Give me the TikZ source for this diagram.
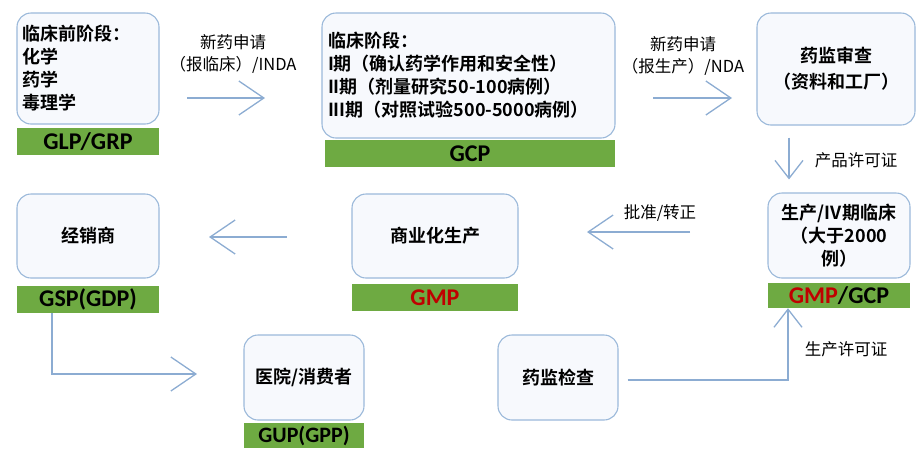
\documentclass[tikz,border=0pt]{standalone}
\usepackage{fontspec}
\setmainfont{Carlito}
\newfontfamily\cjk{Noto Sans CJK SC}[BoldFont={Noto Sans CJK SC Bold}]
\usetikzlibrary{arrows.meta, positioning, calc}
\definecolor{boxline}{RGB}{155,185,218}
\definecolor{boxbg}{RGB}{247,249,253}
\definecolor{bargreen}{RGB}{110,170,66}
\definecolor{arrowblue}{RGB}{140,172,210}
\definecolor{gmpred}{RGB}{192,0,0}

\begin{document}
\begin{tikzpicture}[x=1pt, y=-1pt,
  stage/.style={draw=boxline, fill=boxbg, rounded corners=14pt, line width=1.1pt,
                font=\cjk\bfseries\fontsize{18}{23}\selectfont, align=center, inner sep=6pt},
  bar/.style={fill=bargreen, inner sep=0pt, font=\bfseries\fontsize{24}{24}\selectfont},
  flow/.style={draw=arrowblue, line width=1.3pt,
               -{Straight Barb[length=25pt, width=34pt, line width=1.3pt]}},
  smallflow/.style={flow, -{Straight Barb[length=18pt, width=28pt, line width=1.3pt]}},
  lbl/.style={font=\cjk\fontsize{16.5}{22}\selectfont, align=center}
]
  \useasboundingbox (0,0) rectangle (916,448);

  % top row
  \node[stage, minimum width=142pt, minimum height=111pt, text width=130pt, align=left]
       (pre) at (88,68.5) {临床前阶段：\\化学\\药学\\毒理学};
  \node[bar, minimum width=142pt, minimum height=27pt] (glp) at (88,141.5) {GLP/GRP};
  \node[stage, minimum width=293pt, minimum height=125pt, text width=281pt, align=left]
       (clin) at (468.5,75.5) {临床阶段：\\I期（确认药学作用和安全性）\\II期（剂量研究50-100病例）\\III期（对照试验500-5000病例）};
  \node[bar, minimum width=290pt, minimum height=27pt] (gcp) at (470,153.5) {GCP};
  \node[stage, minimum width=158pt, minimum height=112pt] (review) at (836,69) {药监审查\\[3pt]（资料和工厂）};

  % middle row
  \node[stage, minimum width=142pt, minimum height=85pt] (phase4) at (839,235.5) {生产/IV期临床\\（大于2000\\例）};
  \node[bar, minimum width=142pt, minimum height=25pt] (gmpgcp) at (839,295.5) {\textcolor{gmpred}{GMP}/GCP};
  \node[stage, minimum width=166pt, minimum height=84pt] (mass) at (435,236) {商业化生产};
  \node[bar, minimum width=166pt, minimum height=27pt] (gmp) at (435,297.5) {\textcolor{gmpred}{GMP}};
  \node[stage, minimum width=142pt, minimum height=84pt] (dealer) at (88,236) {经销商};
  \node[bar, minimum width=142pt, minimum height=27pt] (gsp) at (88,299.5) {GSP(GDP)};

  % bottom row
  \node[stage, minimum width=120pt, minimum height=85pt] (user) at (304,377.5) {医院/消费者};
  \node[bar, minimum width=120pt, minimum height=25pt, font=\bfseries\fontsize{22}{22}\selectfont]
       (gup) at (304,435.5) {GUP(GPP)};
  \node[stage, minimum width=120pt, minimum height=85pt] (inspect) at (558,377.5) {药监检查};

  % free arrow ends
  \coordinate (ind1) at (187,98);  \coordinate (ind2) at (265,98);
  \coordinate (nda1) at (653,98);  \coordinate (nda2) at (732,98);
  \coordinate (ok1)  at (690,232); \coordinate (ok2)  at (587,232);
  \coordinate (ds1)  at (287,237); \coordinate (ds2)  at (209,237);
  \coordinate (hosp) at (197,374);

  \draw[flow] (ind1) -- (ind2);
  \draw[flow] (nda1) -- (nda2);
  \draw[smallflow] ([xshift=-47pt, yshift=-12pt]review.south) -- ([xshift=-50pt, yshift=13pt]phase4.north);
  \draw[flow] (ok1) -- (ok2);
  \draw[flow] (ds1) -- (ds2);
  \draw[flow] ([xshift=-36pt]gsp.south) |- (hosp);
  \draw[smallflow] ([xshift=9pt, yshift=-2.5pt]inspect.east) -| ([xshift=-51pt]gmpgcp.south);

  \node[lbl] (indlbl)  at (233,54)    {新药申请\\（报临床）/INDA};
  \node[lbl] (ndalbl)  at (683,56.5)  {新药申请\\（报生产）/NDA};
  \node[lbl] (prodlbl) at (856,160)   {产品许可证};
  \node[lbl] (oklbl)   at (660,213)   {批准/转正};
  \node[lbl] (mfglbl)  at (846,349)   {生产许可证};
\end{tikzpicture}
\end{document}
